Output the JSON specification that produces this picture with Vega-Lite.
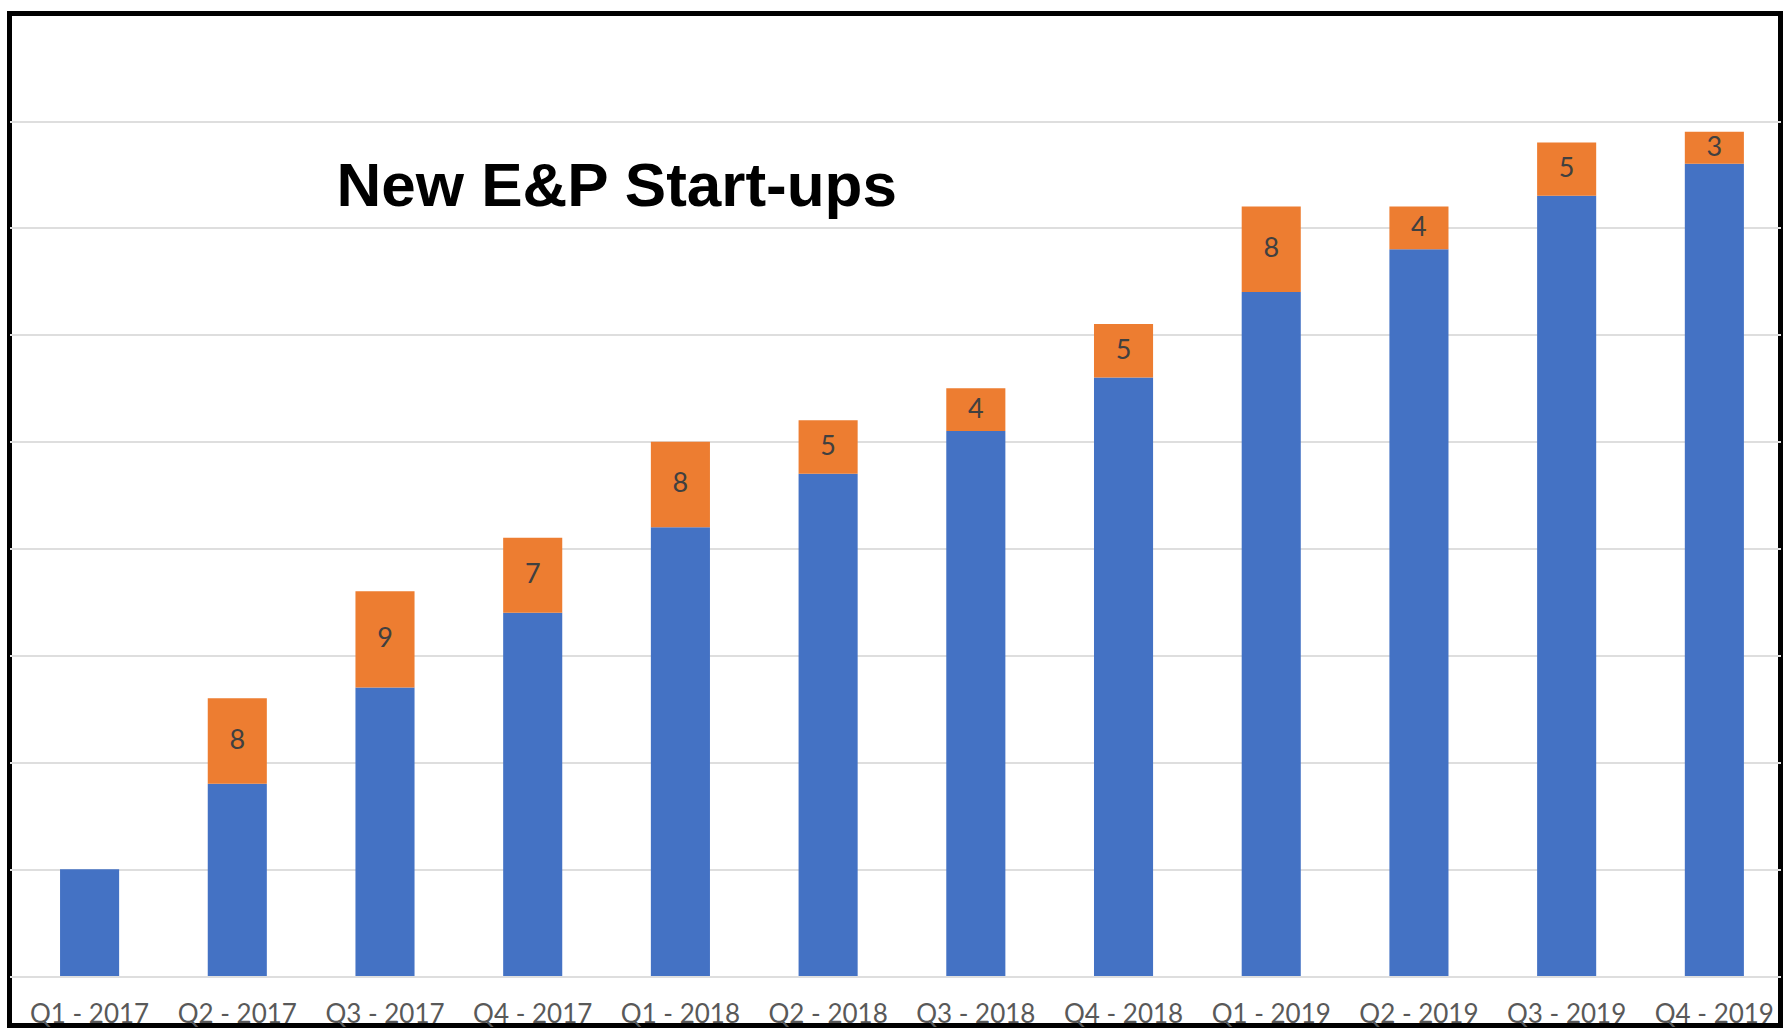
{
  "$schema": "https://vega.github.io/schema/vega-lite/v6.json",
  "width": 1771,
  "height": 1012,
  "autosize": {"type": "none"},
  "padding": {"left": 9.5, "top": 13.5, "right": 3.5, "bottom": 6.5},
  "background": "white",
  "title": {
    "text": "New E&P Start-ups",
    "anchor": "start",
    "frame": "group",
    "orient": "top",
    "offset": 0,
    "font": "Liberation Sans, Arial",
    "fontSize": 62,
    "fontWeight": "bold",
    "color": "#000000",
    "baseline": "alphabetic",
    "dx": 327,
    "dy": 254.5
  },
  "data": {
    "values": [
      {"quarter": "Q1 - 2017", "series": "Existing", "value": 10},
      {"quarter": "Q1 - 2017", "series": "New", "value": 0},
      {"quarter": "Q2 - 2017", "series": "Existing", "value": 18},
      {"quarter": "Q2 - 2017", "series": "New", "value": 8},
      {"quarter": "Q3 - 2017", "series": "Existing", "value": 27},
      {"quarter": "Q3 - 2017", "series": "New", "value": 9},
      {"quarter": "Q4 - 2017", "series": "Existing", "value": 34},
      {"quarter": "Q4 - 2017", "series": "New", "value": 7},
      {"quarter": "Q1 - 2018", "series": "Existing", "value": 42},
      {"quarter": "Q1 - 2018", "series": "New", "value": 8},
      {"quarter": "Q2 - 2018", "series": "Existing", "value": 47},
      {"quarter": "Q2 - 2018", "series": "New", "value": 5},
      {"quarter": "Q3 - 2018", "series": "Existing", "value": 51},
      {"quarter": "Q3 - 2018", "series": "New", "value": 4},
      {"quarter": "Q4 - 2018", "series": "Existing", "value": 56},
      {"quarter": "Q4 - 2018", "series": "New", "value": 5},
      {"quarter": "Q1 - 2019", "series": "Existing", "value": 64},
      {"quarter": "Q1 - 2019", "series": "New", "value": 8},
      {"quarter": "Q2 - 2019", "series": "Existing", "value": 68},
      {"quarter": "Q2 - 2019", "series": "New", "value": 4},
      {"quarter": "Q3 - 2019", "series": "Existing", "value": 73},
      {"quarter": "Q3 - 2019", "series": "New", "value": 5},
      {"quarter": "Q4 - 2019", "series": "Existing", "value": 76},
      {"quarter": "Q4 - 2019", "series": "New", "value": 3}
    ]
  },
  "encoding": {
    "x": {
      "field": "quarter",
      "type": "nominal",
      "sort": null,
      "scale": {"type": "band", "paddingInner": 0.6, "paddingOuter": 0.295, "align": 0.58},
      "axis": {
        "title": null,
        "orient": "bottom",
        "offset": -49.5,
        "domain": false,
        "ticks": false,
        "labelAngle": 0,
        "labelBaseline": "alphabetic",
        "labelPadding": 46,
        "labelFont": "Lato",
        "labelFontSize": 26,
        "labelColor": "#595959"
      }
    }
  },
  "layer": [
    {
      "mark": {"type": "bar"},
      "encoding": {
        "y": {
          "field": "value",
          "type": "quantitative",
          "stack": "zero",
          "scale": {"domain": [-4.63, 90.06], "nice": false, "zero": false},
          "axis": {
            "title": null,
            "values": [0, 10, 20, 30, 40, 50, 60, 70, 80],
            "grid": true,
            "gridColor": "#dedede",
            "gridWidth": 2,
            "labels": false,
            "ticks": false,
            "domain": false
          }
        },
        "color": {
          "field": "series",
          "type": "nominal",
          "scale": {"domain": ["Existing", "New"], "range": ["#4472C4", "#ED7D31"]},
          "legend": null
        },
        "order": {"field": "series", "sort": "ascending"}
      }
    },
    {
      "transform": [
        {"stack": "value", "groupby": ["quarter"], "sort": [{"field": "series", "order": "ascending"}], "as": ["v0", "v1"]},
        {"calculate": "(datum.v0 + datum.v1) / 2", "as": "mid"},
        {"filter": "datum.series === 'New' && datum.value > 0"}
      ],
      "mark": {"type": "text", "font": "Lato", "fontSize": 27, "color": "#404040", "baseline": "middle", "align": "center"},
      "encoding": {
        "y": {"field": "mid", "type": "quantitative"},
        "text": {"field": "value", "type": "quantitative"}
      }
    }
  ],
  "config": {
    "view": {"stroke": "#000000", "strokeWidth": 5}
  }
}
